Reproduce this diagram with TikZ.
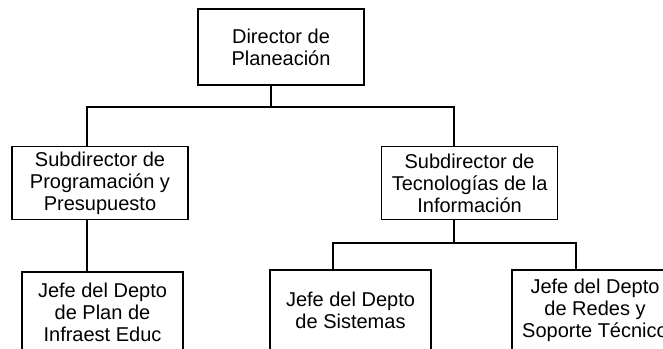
\documentclass[tikz,border=0pt]{standalone}
\usepackage{fontspec}
\setmainfont{Liberation Sans}
\usetikzlibrary{positioning}
\tikzset{
mybox/.style={
  draw,
  line width=1.6pt,
  align=center,
  inner sep=0pt,
  font=\fontsize{20}{22}\selectfont
  },
mysub/.style={
  mybox,
  minimum width=176pt,
  minimum height=73pt
  },
myjefe/.style={
  mybox,
  minimum width=161pt,
  minimum height=80pt
  },
myline/.style={line width=1.6pt}
}

\begin{document}
\begin{tikzpicture}[x=1pt,y=-1pt]
            \useasboundingbox (0,0) rectangle (663,348);
            \clip (0,0) rectangle (663,348);
            % boxes
            \node[mybox,minimum width=166pt,minimum height=76pt] (dir) at (281,47) {Director de\\Planeaci\'on};
            \node[mysub] (subprog) at (100,183) {Subdirector de\\Programaci\'on y\\Presupuesto};
            \node[mysub,right=192pt of subprog] (subtec) {Subdirector de\\Tecnolog\'ias de la\\Informaci\'on};
            \node[myjefe] (jefeplan) at (102.5,312) {Jefe del Depto\\de Plan de\\Infraest Educ};
            \node[myjefe] (jefesis) at (350.5,310) {Jefe del Depto\\de Sistemas};
            \node[myjefe,minimum width=166pt] (jeferedes) at (595,310) {Jefe del Depto\\de Redes y\\Soporte T\'ecnico};
            % connectors
            \coordinate (bar) at (271,107);
            \coordinate (lp) at (87,0);
            \coordinate (rt) at (454,0);
            \coordinate (bar2) at (454,243);
            \coordinate (ls) at (333,0);
            \coordinate (rr) at (576,0);
            \draw[myline] (dir.south -| bar) -- (bar);
            \draw[myline] (subprog.north -| lp) |- (bar) -| (subtec.north -| rt);
            \draw[myline] (subprog.south -| lp) -- (jefeplan.north -| lp);
            \draw[myline] (subtec.south -| rt) -- (bar2);
            \draw[myline] (jefesis.north -| ls) |- (bar2) -| (jeferedes.north -| rr);
        \end{tikzpicture}
\end{document}
